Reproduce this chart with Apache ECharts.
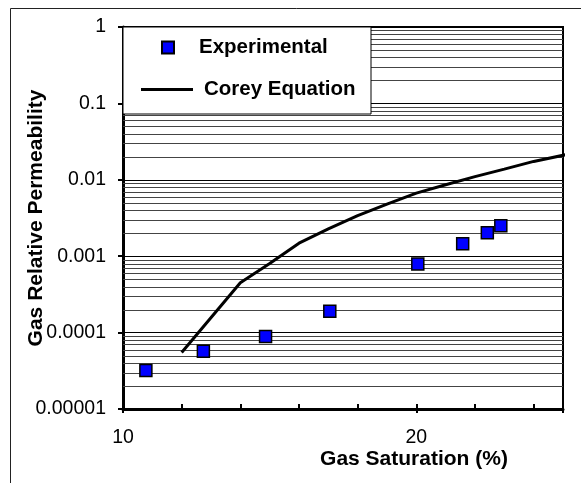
<!DOCTYPE html>
<html>
<head>
<meta charset="utf-8">
<script src="https://cdn.jsdelivr.net/npm/echarts@6/dist/echarts.min.js"></script>
<style>
  html, body { margin: 0; padding: 0; background: #fff; }
  #chart { width: 581px; height: 483px; }
</style>
</head>
<body>
<div id="chart"></div>
<script>
// experimental points: gas saturation (%) vs gas relative permeability
const expSat = [10.78, 12.74, 14.86, 17.05, 20.05, 21.58, 22.42, 22.88];
const expKrg = [3.2e-5, 5.7e-5, 8.9e-5, 1.9e-4, 7.9e-4, 1.45e-3, 2.02e-3, 2.5e-3];

// Corey equation curve
const coreySat = [12, 14, 15, 16, 17, 18, 19, 20, 21, 22, 23, 24, 25.25];
const coreyKrg = [5.5e-5, 4.5e-4, 8.0e-4, 1.48e-3, 2.28e-3, 3.4e-3, 4.8e-3, 6.7e-3, 8.6e-3, 0.0110, 0.0138, 0.0174, 0.0219];

// horizontal grid lines (log minors between decades)
const decades = [1e-5, 1e-4, 1e-3, 1e-2, 1e-1];
const mantissas = [2, 3, 4, 5, 6, 7, 8, 9];
const xLabelled = [10, 20];

const font = "'Liberation Sans', Arial, sans-serif";

const gridLines = [];
decades.forEach(d => mantissas.forEach(m => gridLines.push([10, +(d * m).toPrecision(3)])));

const chart = echarts.init(document.getElementById("chart"));

const option = {
  backgroundColor: "#fff",
  animation: false,
  grid: {
    left: 123, top: 27, right: 18, bottom: 74,
    show: true, borderColor: "#000", borderWidth: 2, backgroundColor: "transparent"
  },
  xAxis: [
    {
      type: "value",
      min: 10, max: 25, interval: 2,
      axisLine: { lineStyle: { color: "#000", width: 3 } },
      axisTick: { inside: true, length: 5, lineStyle: { color: "#000", width: 2 } },
      axisLabel: {
        margin: 19, color: "#000", fontFamily: font, fontSize: 19.5,
        formatter: v => (xLabelled.includes(v) ? String(v) : "")
      },
      splitLine: { show: false }
    },
    {
      type: "value",
      min: 10, max: 25, interval: 10,
      position: "bottom",
      axisLine: { show: false },
      axisTick: { length: 4, lineStyle: { color: "#000", width: 2 } },
      axisLabel: { show: false },
      splitLine: { show: false }
    }
  ],
  yAxis: {
    type: "log",
    logBase: 10,
    min: 1e-5, max: 1,
    name: "Gas Relative Permeability",
    nameLocation: "middle",
    nameGap: 76,
    nameMoveOverlap: false,
    nameTextStyle: { color: "#000", fontFamily: font, fontSize: 21, fontWeight: "bold" },
    axisLine: { lineStyle: { color: "#000", width: 3 } },
    axisTick: { length: 5, lineStyle: { color: "#000", width: 2 } },
    axisLabel: {
      margin: 17, color: "#000", fontFamily: font, fontSize: 19.5,
      formatter: v => {
        const d = Math.round(-Math.log10(v));
        return d > 0 ? v.toFixed(d) : String(Math.round(v));
      }
    },
    minorTick: { show: false },
    splitLine: { show: true, lineStyle: { color: "#000", width: 1 } }
  },
  legend: [
    {
      data: [{ name: "Experimental", icon: "rect" }],
      left: 161, top: 37, orient: "vertical",
      itemWidth: 12, itemHeight: 12,
      padding: 0, z: 20,
      textStyle: { color: "#000", fontFamily: font, fontSize: 20.5, fontWeight: "bold", padding: [0, 0, 0, 20] }
    },
    {
      data: [{ name: "Corey Equation", icon: "rect" }],
      left: 141, top: 79, orient: "vertical",
      itemWidth: 52, itemHeight: 3,
      padding: 0, z: 20,
      textStyle: { color: "#000", fontFamily: font, fontSize: 20.5, fontWeight: "bold", padding: [0, 0, 0, 6] }
    }
  ],
  graphic: [
    {
      type: "rect", z: 15, silent: true,
      shape: { x: 123, y: 27, width: 248, height: 87 },
      style: { fill: "#fff", stroke: "#000", lineWidth: 1 }
    },
    {
      type: "rect", z: -1, silent: true,
      shape: { x: 10.5, y: 8.5, width: 600, height: 500 },
      style: { fill: "none", stroke: "#222", lineWidth: 1 }
    },
    {
      type: "text", x: 414, y: 459, silent: true,
      style: {
        text: "Gas Saturation (%)", fill: "#000", font: "bold 21px " + font,
        textAlign: "center", textVerticalAlign: "middle"
      }
    }
  ],
  series: [
    {
      type: "custom",
      name: "grid",
      data: gridLines,
      z: 1,
      silent: true,
      renderItem: (params, api) => {
        const y = Math.round(api.coord([10, api.value(1)])[1]) + 0.5;
        const cs = params.coordSys;
        return {
          type: "line",
          shape: { x1: cs.x, y1: y, x2: cs.x + cs.width, y2: y },
          style: { stroke: "#444", lineWidth: 1 }
        };
      }
    },
    {
      type: "line",
      name: "Corey Equation",
      data: coreySat.map((s, i) => [s, coreyKrg[i]]),
      symbol: "none",
      clip: false,
      z: 5,
      lineStyle: { color: "#000", width: 3 },
      itemStyle: { color: "#000" }
    },
    {
      type: "scatter",
      name: "Experimental",
      data: expSat.map((s, i) => [s, expKrg[i]]),
      symbol: "rect",
      symbolSize: 12,
      z: 6,
      itemStyle: { color: "#0000ff", opacity: 1, borderColor: "#000", borderWidth: 1.5 }
    }
  ]
};

chart.setOption(option);
</script>
</body>
</html>
